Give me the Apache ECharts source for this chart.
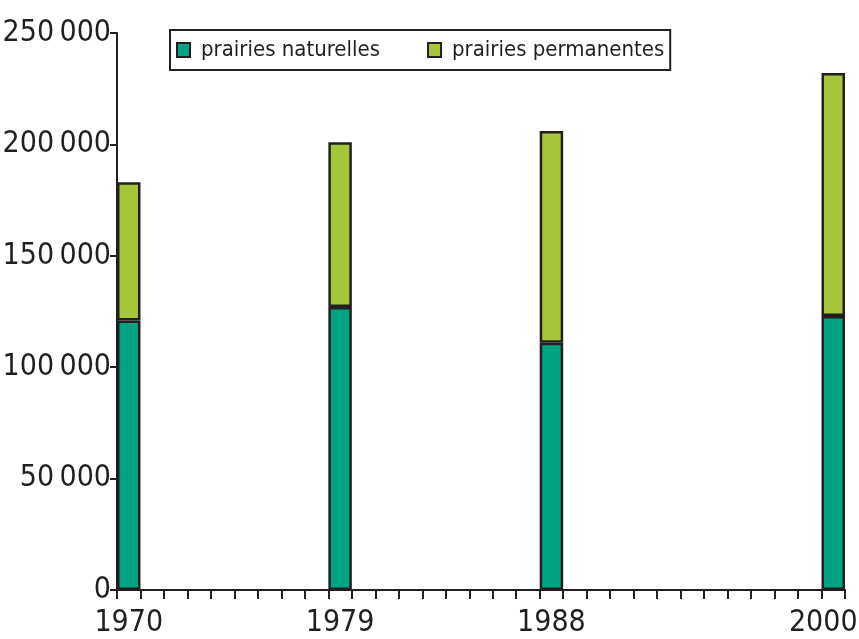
<!DOCTYPE html>
<html>
<head>
<meta charset="utf-8">
<script src="https://cdn.jsdelivr.net/npm/echarts@6/dist/echarts.min.js"></script>
<style>
  html, body { margin: 0; padding: 0; background: #fff; }
  #chart { width: 859px; height: 639px; }
</style>
</head>
<body>
<div id="chart"></div>
<script>
// Surfaces of grassland (ha) by census year
const years = [1970, 1979, 1988, 2000];
const naturelles = [121000, 127000, 111000, 123000];
const permanentes = [62000, 74000, 95000, 109000];
const seriesNames = ['prairies naturelles', 'prairies permanentes'];
const yTicks = [0, 50000, 100000, 150000, 200000, 250000];

const FONT = '"Liberation Sans Narrow", "DejaVu Sans Condensed", "Liberation Sans", sans-serif';
const INK = '#231f20';
const colors = ['#00a482', '#a5c63b'];

// One category per year over the whole span, so each bar is one year wide
const allYears = [];
for (let y = years[0]; y <= years[years.length - 1]; y++) allYears.push(String(y));
const lastYear = allYears[allYears.length - 1];

function fmt(v) {
  if (v === 0) return '0';
  const s = String(v);
  return s.slice(0, s.length - 3) + '\u2009' + s.slice(-3);
}

const chart = echarts.init(document.getElementById('chart'), null, { renderer: 'canvas' });
chart.setOption({
  animation: false,
  backgroundColor: '#ffffff',
  textStyle: { fontFamily: FONT, color: INK },
  legend: {
    left: 170, top: 30,
    orient: 'horizontal',
    padding: [9, 6, 9, 6],
    itemGap: 47,
    itemWidth: 13, itemHeight: 14,
    borderColor: INK, borderWidth: 2,
    icon: 'rect',
    itemStyle: { borderColor: INK, borderWidth: 2 },
    textStyle: { fontFamily: FONT, fontSize: 22, color: INK, padding: [0, 0, 0, 6] },
    data: seriesNames
  },
  grid: { left: 117, right: 14, top: 33, bottom: 49, containLabel: false, outerBoundsMode: 'none' },
  xAxis: {
    type: 'category',
    data: allYears,
    boundaryGap: true,
    axisLine: { show: true, lineStyle: { color: INK, width: 2 } },
    axisTick: { show: true, interval: 0, length: 9, lineStyle: { color: INK, width: 2 } },
    axisLabel: {
      interval: (idx, val) => years.includes(Number(val)),
      // keep the last year inside the frame
      formatter: (val) => val === lastYear ? '{last|' + val + '}' : val,
      rich: { last: { fontFamily: FONT, fontSize: 30, color: INK, padding: [0, 20, 0, 0] } },
      fontFamily: FONT, fontSize: 30, color: INK, margin: 18
    },
    splitLine: { show: false }
  },
  yAxis: {
    type: 'value',
    min: yTicks[0], max: yTicks[yTicks.length - 1], interval: yTicks[1] - yTicks[0],
    axisLine: { show: true, lineStyle: { color: INK, width: 2 } },
    axisTick: { show: true, length: 7, lineStyle: { color: INK, width: 2 } },
    axisLabel: { formatter: fmt, fontFamily: FONT, fontSize: 30, color: INK, margin: 6 },
    splitLine: { show: false }
  },
  series: [
    {
      name: seriesNames[0], type: 'bar', stack: 'total',
      barWidth: '100%',
      itemStyle: { color: colors[0], borderColor: INK, borderWidth: 2.5 },
      data: years.map((y, i) => [String(y), naturelles[i]])
    },
    {
      name: seriesNames[1], type: 'bar', stack: 'total',
      barWidth: '100%',
      itemStyle: { color: colors[1], borderColor: INK, borderWidth: 2.5 },
      data: years.map((y, i) => [String(y), permanentes[i]])
    }
  ]
});
</script>
</body>
</html>
